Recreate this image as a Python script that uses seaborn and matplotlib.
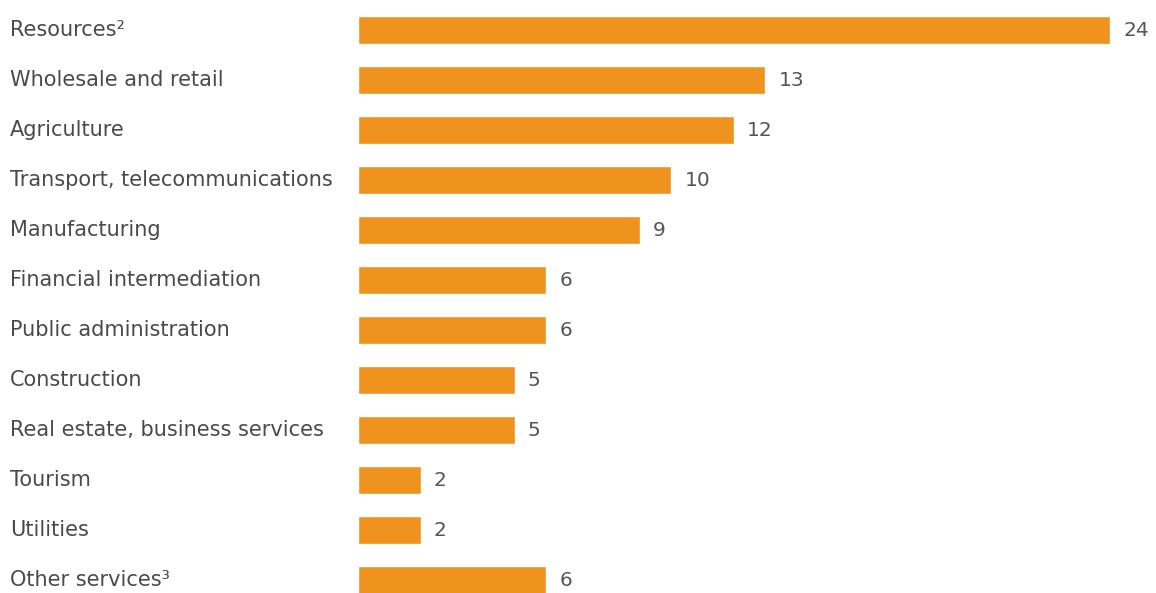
import matplotlib
matplotlib.use("Agg")
import matplotlib.pyplot as plt
import seaborn as sns
import pandas as pd

categories = ["Resources²", "Wholesale and retail", "Agriculture",
              "Transport, telecommunications", "Manufacturing",
              "Financial intermediation", "Public administration",
              "Construction", "Real estate, business services",
              "Tourism", "Utilities", "Other services³"]
values = [24, 13, 12, 10, 9, 6, 6, 5, 5, 2, 2, 6]

df = pd.DataFrame({"cat": categories, "val": values})

sns.set_theme(style="white")
plt.rcParams['font.family'] = ['DejaVu Sans']

W, H = 1156, 593
fig = plt.figure(figsize=(W / 100, H / 100), dpi=100)
px_per_unit = 31.33
left_px = 358
xmax = 25.3
ax = fig.add_axes([left_px / W, 0, xmax * px_per_unit / W, 588 / H])

sns.barplot(data=df, x="val", y="cat", orient="h", color="#F0921E",
            saturation=1, width=0.56, ax=ax, order=categories)

ax.set_xlim(0, xmax)
ax.set_ylim(11.26, -0.5)
ax.set_xlabel("")
ax.set_ylabel("")
ax.set_xticks([])
ax.set_yticks([])
for s in ax.spines.values():
    s.set_visible(False)

trans = matplotlib.transforms.blended_transform_factory(fig.transFigure, ax.transData)
for i, (c, v) in enumerate(zip(categories, values)):
    ax.text(10 / W, i, c, transform=trans, ha="left", va="center",
            fontsize=15, color="#4a4a4a")
    ax.text(v + 0.42, i, str(v), ha="left", va="center",
            fontsize=14.5, color="#555555")

fig.savefig("out.png", dpi=100)
